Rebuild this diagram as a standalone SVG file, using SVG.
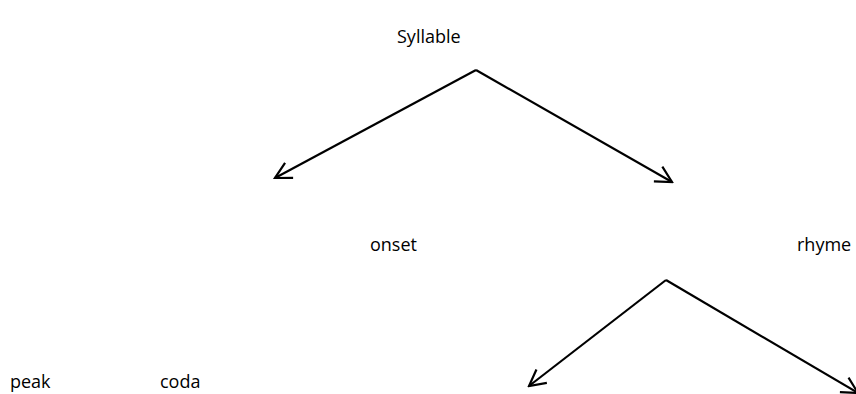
<svg xmlns="http://www.w3.org/2000/svg" width="856" height="394" viewBox="0 0 856 394">
  <style>
    .label { font-family: "Open Sans", "Noto Sans", "Liberation Sans", sans-serif; font-size: 18px; fill: #000; }
    .edge { stroke: #000; stroke-width: 2.2; fill: none; marker-end: url(#arrow); }
  </style>
  <defs>
    <!-- open V arrowhead -->
    <marker id="arrow" markerUnits="userSpaceOnUse" markerWidth="20" markerHeight="20" viewBox="0 0 20 20" refX="18" refY="10" orient="auto">
      <path d="M2,1.5 L18,10 L2,18.5" stroke="#000" stroke-width="2.2" fill="none"/>
    </marker>
  </defs>
  <rect width="856" height="394" fill="#fff"/>
  <g id="connectors">
    <line class="edge" x1="476" y1="70" x2="275" y2="178"/>
    <line class="edge" x1="476" y1="70" x2="672" y2="182"/>
    <line class="edge" x1="666" y1="280" x2="529" y2="386"/>
    <line class="edge" x1="666" y1="280" x2="858" y2="393"/>
  </g>
  <g id="syllable"><text class="label" x="397" y="43">Syllable</text></g>
  <g id="onset"><text class="label" x="370" y="251">onset</text></g>
  <g id="rhyme"><text class="label" x="797" y="251">rhyme</text></g>
  <g id="peak"><text class="label" x="10" y="388">peak</text></g>
  <g id="coda"><text class="label" x="160" y="388">coda</text></g>
</svg>
